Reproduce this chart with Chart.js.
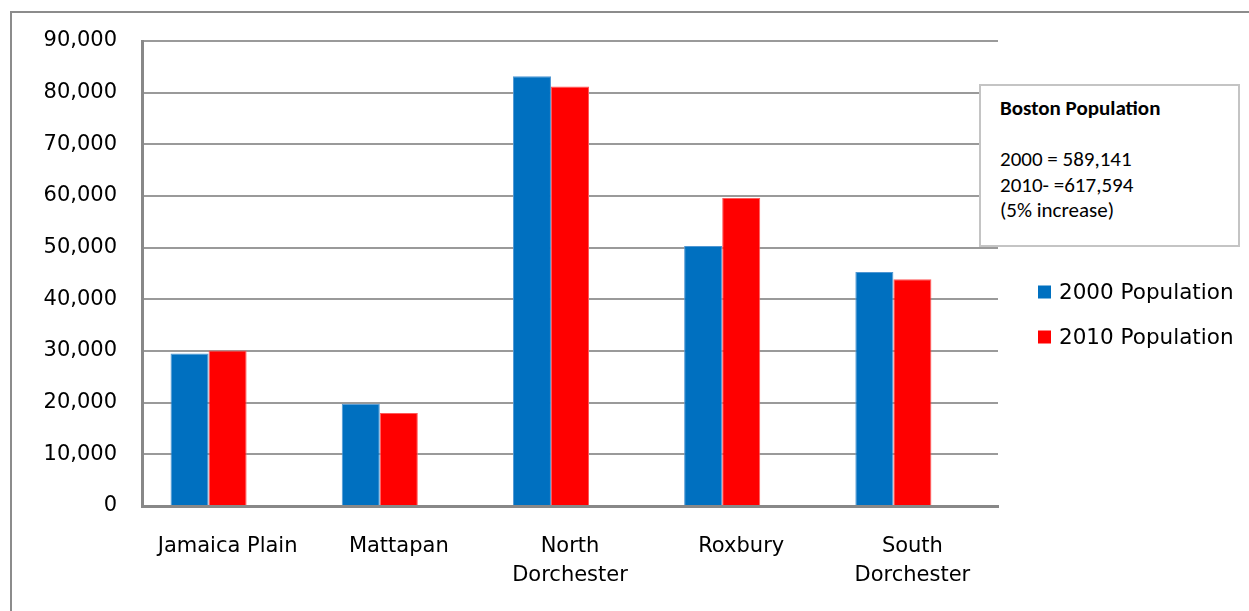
<!DOCTYPE html>
<html>
<head>
<meta charset="utf-8">
<script src="https://cdn.jsdelivr.net/npm/chart.js@4"></script>
<style>
  html, body { margin: 0; padding: 0; background: #fff; overflow: hidden; }
  #wrap { position: relative; width: 1249px; height: 611px; overflow: hidden; }
  #frame {
    position: absolute; left: 10px; top: 11px; width: 1300px; height: 700px;
    border: 2px solid #8c8c8c; box-sizing: border-box;
  }
  #chart { position: absolute; left: 0; top: 0; }
  #note {
    position: absolute; left: 979px; top: 84px; width: 261px; height: 163px;
    box-sizing: border-box; border: 2px solid #c4c4c4; background: #fff;
    font-family: Carlito, "Noto Sans", sans-serif; font-size: 21px; line-height: 25.5px;
    color: #000; padding: 10px 0 0 19px;
  }
  #note b { font-weight: bold; }
</style>
</head>
<body>
<div id="wrap">
  <div id="frame"></div>
  <canvas id="chart" width="1249" height="611"></canvas>
  <div id="note"><b>Boston Population</b><br><br>2000 = 589,141<br>2010- =617,594<br>(5% increase)</div>
</div>
<script>
// Neighborhood populations, 2000 vs 2010
const neighborhoods = ['Jamaica Plain', 'Mattapan', ['North', 'Dorchester'], 'Roxbury', ['South', 'Dorchester']];
const seriesNames = ['2000 Population', '2010 Population'];
const pop2000 = [29500, 19800, 83200, 50300, 45300];
const pop2010 = [30100, 18000, 81200, 59600, 43900];
const yTicks = [0, 10000, 20000, 30000, 40000, 50000, 60000, 70000, 80000, 90000];

const FONT = 'DejaVu Sans';

// Legend drawn at the right side, one row per named series
const sideLegend = {
  id: 'sideLegend',
  afterDraw(chart, args, opts) {
    const ctx = chart.ctx;
    ctx.save();
    ctx.font = opts.size + 'px "' + opts.family + '"';
    ctx.textBaseline = 'middle';
    ctx.textAlign = 'left';
    let y = opts.y;
    chart.data.datasets.forEach(ds => {
      if (!ds.label) return;
      ctx.fillStyle = ds.backgroundColor;
      ctx.fillRect(opts.x, y - 6.5, 13, 13);
      ctx.fillStyle = '#000';
      ctx.fillText(ds.label, opts.x + 21, y + 1);
      y += opts.spacing;
    });
    ctx.restore();
  }
};

new Chart(document.getElementById('chart'), {
  type: 'bar',
  data: {
    labels: neighborhoods,
    datasets: [
      { label: seriesNames[0], data: pop2000, backgroundColor: '#0070C0', borderColor: '#4f97d3', borderWidth: 1, borderSkipped: 'bottom' },
      { label: seriesNames[1], data: pop2010, backgroundColor: '#FF0000', borderColor: '#ff5a5a', borderWidth: 1, borderSkipped: 'bottom' },
      // empty third slot in each group (keeps the pair left of the category centre)
      { label: '', data: neighborhoods.map(() => null), backgroundColor: 'rgba(0,0,0,0)' }
    ]
  },
  options: {
    responsive: false,
    animation: false,
    devicePixelRatio: 1,
    layout: { padding: { top: 41, right: 251, left: 0, bottom: 0 } },
    datasets: { bar: { categoryPercentage: 3 / 4.5, barPercentage: 1 } },
    plugins: {
      legend: { display: false },
      tooltip: { enabled: false },
      sideLegend: { x: 1038, y: 292, spacing: 45, family: FONT, size: 21.5 }
    },
    scales: {
      x: {
        grid: { display: false, drawTicks: false },
        border: { display: true, color: '#888888', width: 3 },
        ticks: {
          color: '#000', padding: 26, maxRotation: 0, autoSkip: false,
          font: { family: FONT, size: 21, lineHeight: 1.38 }
        },
        afterFit(scale) { scale.height = 105; }
      },
      y: {
        min: yTicks[0], max: yTicks[yTicks.length - 1],
        afterBuildTicks(scale) { scale.ticks = yTicks.map(v => ({ value: v })); },
        grid: { color: '#9a9a9a', lineWidth: 2, drawTicks: false },
        border: { display: true, color: '#888888', width: 3 },
        ticks: {
          color: '#000', padding: 25,
          font: { family: FONT, size: 21 },
          callback: v => v.toLocaleString('en-US')
        },
        afterFit(scale) { scale.width = 142; }
      }
    }
  },
  plugins: [sideLegend]
});
</script>
</body>
</html>
